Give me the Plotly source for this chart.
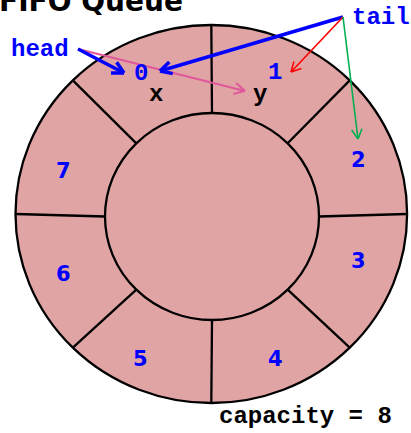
import numpy as np
import plotly.graph_objects as go

# ---------------- data ----------------
capacity = 8
slot_labels = ["0", "1", "2", "3", "4", "5", "6", "7"]
item_values = ["x", "y"]          # items stored in the queue
item_slots = [0, 1]               # slot index of each stored item
head_index = 0
tail_index = 1
title_text = "FIFO Queue"
head_text = "head"
tail_text = "tail"
capacity_text = "capacity = " + str(capacity)

# ---------------- layout / style ----------------
W, H = 411, 433
OUT_C = (211.3, 214.0)
OUT_R = (195.8, 189.0)
IN_C = (212.0, 216.5)
IN_R = (107.0, 103.5)
RING_FILL = "#E1A4A4"
BLUE = "#0000FF"
RED = "#FF0000"
GREEN = "#00B050"
PINK = "#E0579B"
MONO = "Liberation Mono"
SANS = "DejaVu Sans"

# label centres of the slot numbers (pixel space)
SLOT_LABEL_XY = [(141, 73), (275, 72), (358.5, 159.5), (358.5, 261),
                 (275, 359), (140, 359), (63.5, 274), (63.5, 171)]
SLOT_FONT = [MONO, MONO, SANS, SANS, SANS, SANS, SANS, SANS]
ITEM_LABEL_XY = [(155.5, 94), (260, 94)]
HEAD_XY = (40, 49)
TAIL_XY = (381, 17)
HEAD_SRC = (78, 49)
TAIL_SRC = (343, 17)

fig = go.Figure()
shapes = []

# outer ring and inner disc
shapes.append(dict(type="circle", xref="x", yref="y",
                   x0=OUT_C[0] - OUT_R[0], x1=OUT_C[0] + OUT_R[0],
                   y0=OUT_C[1] - OUT_R[1], y1=OUT_C[1] + OUT_R[1],
                   fillcolor=RING_FILL, line=dict(color="black", width=2.3), layer="below"))
shapes.append(dict(type="circle", xref="x", yref="y",
                   x0=IN_C[0] - IN_R[0], x1=IN_C[0] + IN_R[0],
                   y0=IN_C[1] - IN_R[1], y1=IN_C[1] + IN_R[1],
                   fillcolor=RING_FILL, line=dict(color="black", width=2.3), layer="below"))

# slot dividers
for k in range(capacity):
    a = np.deg2rad(90 - 360.0 / capacity * k)
    x0 = IN_C[0] + IN_R[0] * np.cos(a)
    y0 = IN_C[1] - IN_R[1] * np.sin(a)
    x1 = OUT_C[0] + OUT_R[0] * np.cos(a)
    y1 = OUT_C[1] - OUT_R[1] * np.sin(a)
    shapes.append(dict(type="line", xref="x", yref="y", x0=x0, y0=y0, x1=x1, y1=y1,
                       line=dict(color="black", width=2.3)))


def arrow(src, dst, color, width, head_len, half_angle=28):
    sx, sy = src
    tx, ty = dst
    shapes.append(dict(type="line", xref="x", yref="y", x0=sx, y0=sy, x1=tx, y1=ty,
                       line=dict(color=color, width=width)))
    ang = np.arctan2(sy - ty, sx - tx)
    for s in (-1, 1):
        b = ang + s * np.deg2rad(half_angle)
        shapes.append(dict(type="line", xref="x", yref="y", x0=tx, y0=ty,
                           x1=tx + head_len * np.cos(b), y1=ty + head_len * np.sin(b),
                           line=dict(color=color, width=width)))


# pointers
arrow(HEAD_SRC, (245, 91), PINK, 2.0, 12)                      # head -> item y
arrow(HEAD_SRC, (124, 73), BLUE, 3.5, 13)                      # head -> slot 0
arrow(TAIL_SRC, (160, 71), BLUE, 3.5, 13)                      # tail -> slot 0
arrow(TAIL_SRC, (291, 72), RED, 1.6, 11)                       # tail -> slot 1
arrow(TAIL_SRC, (358, 139), GREEN, 1.6, 11)                    # tail -> slot 2

annotations = []
for lbl, (x, y), fam in zip(slot_labels, SLOT_LABEL_XY, SLOT_FONT):
    annotations.append(dict(x=x, y=y, text="<b>" + lbl + "</b>", showarrow=False,
                            xanchor="center", yanchor="middle",
                            font=dict(family=fam, size=24 if fam == MONO else 21, color=BLUE)))
for v, (x, y) in zip(item_values, ITEM_LABEL_XY):
    annotations.append(dict(x=x, y=y, text="<b>" + v + "</b>", showarrow=False,
                            xanchor="center", yanchor="middle",
                            font=dict(family=MONO, size=24, color="black")))
annotations.append(dict(x=HEAD_XY[0], y=HEAD_XY[1], text="<b>" + head_text + "</b>", showarrow=False,
                        xanchor="center", yanchor="middle", font=dict(family=MONO, size=24, color=BLUE)))
annotations.append(dict(x=TAIL_XY[0], y=TAIL_XY[1], text="<b>" + tail_text + "</b>", showarrow=False,
                        xanchor="center", yanchor="middle", font=dict(family=MONO, size=24, color=BLUE)))
annotations.append(dict(x=305.5, y=416, text="<b>" + capacity_text + "</b>", showarrow=False,
                        xanchor="center", yanchor="middle", font=dict(family=MONO, size=24, color="black")))
annotations.append(dict(x=0, y=0, xshift=-3, yshift=-1, text="<b>" + title_text + "</b>", showarrow=False,
                        xanchor="left", yanchor="middle", font=dict(family=SANS, size=28, color="black")))

fig.update_layout(
    width=W, height=H, margin=dict(l=0, r=0, t=0, b=0),
    paper_bgcolor="white", plot_bgcolor="white",
    xaxis=dict(range=[0, W], visible=False, fixedrange=True),
    yaxis=dict(range=[H, 0], visible=False, fixedrange=True),
    shapes=shapes, annotations=annotations, showlegend=False,
)
fig.write_html("out.html", config={"displayModeBar": False, "staticPlot": True},
               post_script="document.body.style.margin='0';document.body.style.overflow='hidden';")
